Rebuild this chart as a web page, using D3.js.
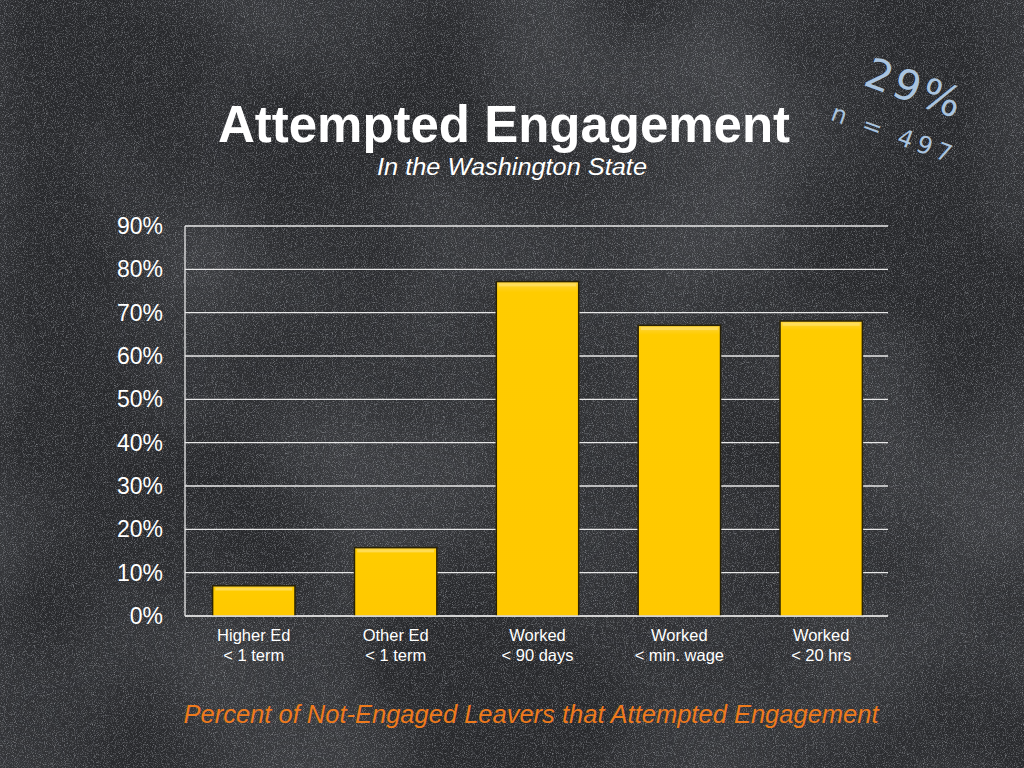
<!DOCTYPE html>
<html>
<head>
<meta charset="utf-8">
<script src="https://cdn.jsdelivr.net/npm/d3@7"></script>
<style>
  html, body { margin: 0; padding: 0; background: #2a2b2e; }
  svg { display: block; }
</style>
</head>
<body>
<div id="chart"></div>
<script>
const categories = [
    ["Higher Ed", "< 1 term"],
    ["Other Ed", "< 1 term"],
    ["Worked", "< 90 days"],
    ["Worked", "< min. wage"],
    ["Worked", "< 20 hrs"]
];
const values = [6.8, 15.6, 77.0, 66.9, 67.9];
const yTicks = [0, 10, 20, 30, 40, 50, 60, 70, 80, 90];

const width = 1024, height = 768;
const plot = { left: 185, right: 890, top: 226, bottom: 616 };
const sans = "'Liberation Sans', Arial, Helvetica, sans-serif";

const svg = d3.select("#chart")
    .append("svg")
    .attr("width", width)
    .attr("height", height);

const defs = svg.append("defs");

// chalkboard speckle
const noise = defs.append("filter")
    .attr("id", "chalk")
    .attr("x", 0).attr("y", 0).attr("width", "100%").attr("height", "100%");
noise.append("feTurbulence")
    .attr("type", "fractalNoise")
    .attr("baseFrequency", "1.1")
    .attr("numOctaves", 2)
    .attr("seed", 4)
    .attr("result", "n");
noise.append("feColorMatrix")
    .attr("in", "n")
    .attr("type", "matrix")
    .attr("values", "0 0 0 0 0.7  0 0 0 0 0.73  0 0 0 0 0.78  0 0 0 2.2 -1.05");

const blotch = defs.append("filter")
    .attr("id", "blotch")
    .attr("x", 0).attr("y", 0).attr("width", "100%").attr("height", "100%");
blotch.append("feTurbulence")
    .attr("type", "fractalNoise")
    .attr("baseFrequency", "0.005")
    .attr("numOctaves", 2)
    .attr("seed", 9)
    .attr("result", "b");
blotch.append("feColorMatrix")
    .attr("in", "b")
    .attr("type", "matrix")
    .attr("values", "0 0 0 0 0.5  0 0 0 0 0.52  0 0 0 0 0.56  0 0 0 0.35 -0.12");

const barGrad = defs.append("linearGradient")
    .attr("id", "barGrad")
    .attr("x1", 0).attr("x2", 0).attr("y1", 0).attr("y2", 1);
barGrad.append("stop").attr("offset", "0%").attr("stop-color", "#ffd63a");
barGrad.append("stop").attr("offset", "3%").attr("stop-color", "#ffcc00");
barGrad.append("stop").attr("offset", "100%").attr("stop-color", "#ffc800");

// background
svg.append("rect").attr("width", width).attr("height", height).attr("fill", "#28292c");
svg.append("rect").attr("width", width).attr("height", height).attr("filter", "url(#blotch)");
svg.append("rect").attr("width", width).attr("height", height).attr("filter", "url(#chalk)").attr("opacity", 0.5);

// scales
const x = d3.scaleBand()
    .domain(d3.range(categories.length))
    .range([plot.left, plot.right])
    .paddingInner(0.43)
    .paddingOuter(0.2);

const y = d3.scaleLinear()
    .domain([0, 90])
    .range([plot.bottom, plot.top]);

// gridlines
svg.append("g")
    .selectAll("line")
    .data(yTicks)
    .enter()
    .append("line")
    .attr("x1", plot.left)
    .attr("x2", plot.right - 2)
    .attr("y1", (d) => y(d))
    .attr("y2", (d) => y(d))
    .attr("stroke", "#e8e8e8")
    .attr("stroke-width", 1.3);

// y axis line
svg.append("line")
    .attr("x1", plot.left).attr("x2", plot.left)
    .attr("y1", plot.top).attr("y2", plot.bottom)
    .attr("stroke", "#e8e8e8")
    .attr("stroke-width", 1.3);

// y tick labels
svg.append("g")
    .selectAll("text")
    .data(yTicks)
    .enter()
    .append("text")
    .attr("x", 163)
    .attr("y", (d) => y(d) + 8)
    .attr("text-anchor", "end")
    .attr("font-family", sans)
    .attr("font-size", 23)
    .attr("fill", "#ffffff")
    .text((d) => d + "%");

// bars
const bars = svg.append("g");
bars.selectAll("rect.shadow")
    .data(values)
    .enter()
    .append("rect")
    .attr("class", "shadow")
    .attr("x", (d, i) => x(i) - 1.5)
    .attr("y", (d) => y(d) - 1.5)
    .attr("width", x.bandwidth() + 3)
    .attr("height", (d) => plot.bottom - y(d) + 1.5)
    .attr("fill", "#2a2205");

bars.selectAll("rect.bar")
    .data(values)
    .enter()
    .append("rect")
    .attr("class", "bar")
    .attr("x", (d, i) => x(i))
    .attr("y", (d) => y(d))
    .attr("width", x.bandwidth())
    .attr("height", (d) => plot.bottom - y(d))
    .attr("fill", "url(#barGrad)");

// bar bevel highlights
bars.selectAll("rect.hl")
    .data(values)
    .enter()
    .append("rect")
    .attr("class", "hl")
    .attr("x", (d, i) => x(i) + 2)
    .attr("y", (d) => y(d) + 1)
    .attr("width", x.bandwidth() - 4)
    .attr("height", 3)
    .attr("fill", "#ffe066")
    .attr("opacity", 0.8);

// x axis line redrawn over bars
svg.append("line")
    .attr("x1", plot.left).attr("x2", plot.right - 2)
    .attr("y1", plot.bottom).attr("y2", plot.bottom)
    .attr("stroke", "#d8d8d8")
    .attr("stroke-width", 1.3);

// category labels
const catLabels = svg.append("g")
    .selectAll("text")
    .data(categories)
    .enter()
    .append("text")
    .attr("text-anchor", "middle")
    .attr("font-family", sans)
    .attr("font-size", 16.5)
    .attr("fill", "#ffffff");
catLabels.each(function (d, i) {
    const t = d3.select(this);
    d.forEach((line, j) => {
        t.append("tspan")
            .attr("x", x(i) + x.bandwidth() / 2)
            .attr("y", 641 + j * 20)
            .text(line);
    });
});

// titles
svg.append("text")
    .attr("x", 504)
    .attr("y", 142)
    .attr("text-anchor", "middle")
    .attr("font-family", sans)
    .attr("font-weight", "bold")
    .attr("font-size", 52)
    .attr("textLength", 572)
    .attr("lengthAdjust", "spacingAndGlyphs")
    .attr("fill", "#ffffff")
    .text("Attempted Engagement");

svg.append("text")
    .attr("x", 512)
    .attr("y", 175)
    .attr("text-anchor", "middle")
    .attr("font-family", sans)
    .attr("font-style", "italic")
    .attr("font-size", 23)
    .attr("textLength", 270)
    .attr("lengthAdjust", "spacingAndGlyphs")
    .attr("fill", "#ffffff")
    .text("In the Washington State");

svg.append("text")
    .attr("x", 531)
    .attr("y", 723)
    .attr("text-anchor", "middle")
    .attr("font-family", sans)
    .attr("font-style", "italic")
    .attr("font-size", 25)
    .attr("textLength", 695)
    .attr("lengthAdjust", "spacingAndGlyphs")
    .attr("fill", "#ee7a1c")
    .text("Percent of Not-Engaged Leavers that Attempted Engagement");

// handwritten note
const note = svg.append("g")
    .attr("transform", "translate(910,102) rotate(20)");
note.append("text")
    .attr("x", 0).attr("y", 0)
    .attr("text-anchor", "middle")
    .attr("font-family", "'DejaVu Sans', sans-serif")
    .attr("font-size", 42)
    .attr("fill", "#a9c3df")
    .attr("letter-spacing", 3)
    .text("29%");
note.append("text")
    .attr("x", -4).attr("y", 44)
    .attr("text-anchor", "middle")
    .attr("font-family", "'DejaVu Sans', sans-serif")
    .attr("font-size", 24)
    .attr("fill", "#a9c3df")
    .attr("letter-spacing", 5)
    .text("n = 497");
</script>
</body>
</html>
